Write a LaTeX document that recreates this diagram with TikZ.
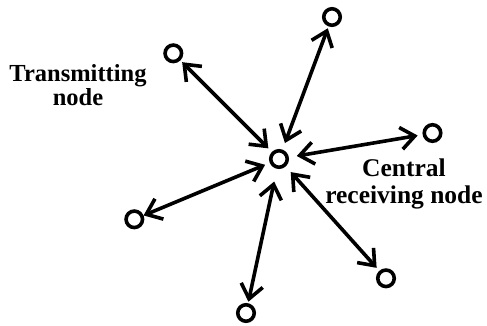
\documentclass[tikz,border=0pt]{standalone}
\usepackage{fontspec}
\setmainfont{Liberation Serif}
\usetikzlibrary{arrows.meta}
\begin{document}
\begin{tikzpicture}[x=1pt,y=-1pt,
  station/.style={circle,draw,line width=3.6pt,minimum size=16.5pt,inner sep=0pt},
  bi/.style={line width=3.6pt,{Straight Barb[length=14pt,width=22pt]}-{Straight Barb[length=14pt,width=22pt]}},
  lbl/.style={font=\fontsize{24.5}{24.5}\selectfont\bfseries,anchor=base,inner sep=0pt}]
\useasboundingbox (0,0) rectangle (487,325);
\node[station] (c)  at (279,159) {};
\node[station] (tr) at (332,17) {};
\node[station] (tl) at (173.3,53.3) {};
\node[station] (r)  at (432.5,133) {};
\node[station] (ll) at (134.3,219.3) {};
\node[station] (b)  at (246,313) {};
\node[station] (br) at (386,278.3) {};
\draw[bi,shorten <=2pt,shorten >=7pt] (tr) -- (c);
\draw[bi,shorten <=2.5pt,shorten >=5pt] (tl) -- (c);
\draw[bi,shorten <=5pt,shorten >=8pt] (r) -- (c);
\draw[bi,shorten <=0pt,shorten >=5pt] (ll) -- (c);
\draw[bi,shorten <=1.5pt,shorten >=13pt] (b) -- (c);
\draw[bi,shorten <=4pt,shorten >=7.5pt] (br) -- (c);
\node[lbl] (t1) at (78,81.7) {Transmitting};
\node[lbl] (t2) at (78,105) {node};
\node[lbl,font=\fontsize{25.5}{25.5}\selectfont\bfseries] (c1) at (404,176.7) {Central};
\node[lbl,font=\fontsize{25.5}{25.5}\selectfont\bfseries] (c2) at (404,203.3) {receiving node};
\end{tikzpicture}
\end{document}
